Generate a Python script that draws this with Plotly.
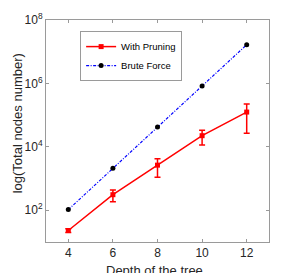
import plotly.graph_objects as go

depth = [4, 6, 8, 10, 12]
pruning_nodes = [23, 310, 2650, 22500, 125000]
pruning_err = [3, 125, 1550, 11000, 98000]
brute_nodes = [105, 2100, 42000, 830000, 16600000]

ytick_vals = [1e2, 1e4, 1e6, 1e8]
ytick_text = ["10<sup>2</sup>", "10<sup>4</sup>", "10<sup>6</sup>", "10<sup>8</sup>"]
xtick_vals = [4, 6, 8, 10, 12]

fig = go.Figure()
fig.add_trace(go.Scatter(
    x=depth, y=pruning_nodes, name="With Pruning", mode="lines+markers",
    line=dict(color="#ff0000", width=1.5),
    marker=dict(color="#ff0000", symbol="square", size=5),
    error_y=dict(type="data", array=pruning_err, color="#ff0000", thickness=1.5, width=3),
))
fig.add_trace(go.Scatter(
    x=depth, y=brute_nodes, name="Brute Force", mode="lines+markers",
    line=dict(color="#0000ff", width=1.2, dash="3px,1.5px,1px,1.5px"),
    marker=dict(color="#000000", symbol="circle", size=5),
))

axis_common = dict(showline=True, linecolor="#9a9a9a", linewidth=1, mirror="ticks",
                   ticks="inside", ticklen=3, tickcolor="#9a9a9a", showgrid=False,
                   zeroline=False, automargin=False,
                   tickfont=dict(family="Liberation Sans, Arial", size=12, color="#262626"))

fig.update_layout(
    width=305, height=273,
    margin=dict(l=46, r=36, t=20, b=31),
    paper_bgcolor="white", plot_bgcolor="white",
    font=dict(family="Liberation Sans, Arial", color="#262626"),
    showlegend=True,
    legend=dict(x=0.153, y=0.95, xanchor="left", yanchor="top",
                bordercolor="#9a9a9a", borderwidth=1, bgcolor="white",
                font=dict(size=9.5, color="#000000"), tracegroupgap=0,
                itemwidth=30),
    xaxis=dict(range=[3, 13], tickvals=xtick_vals, **axis_common),
    yaxis=dict(type="log", range=[1, 8], tickvals=ytick_vals, ticktext=ytick_text,
               **axis_common),
    annotations=[
        dict(text="Depth of the tree", xref="paper", yref="paper", x=0.486, y=-0.085,
             xanchor="center", yanchor="top", showarrow=False,
             font=dict(size=13, color="#262626")),
        dict(text="log(Total nodes number)", xref="paper", yref="paper", x=-0.126, y=0.534,
             xanchor="center", yanchor="middle", textangle=-90, showarrow=False,
             font=dict(size=13, color="#262626")),
    ],
)

fig.write_html("out.html", config={"displayModeBar": False},
               post_script="document.body.style.margin='0';")
